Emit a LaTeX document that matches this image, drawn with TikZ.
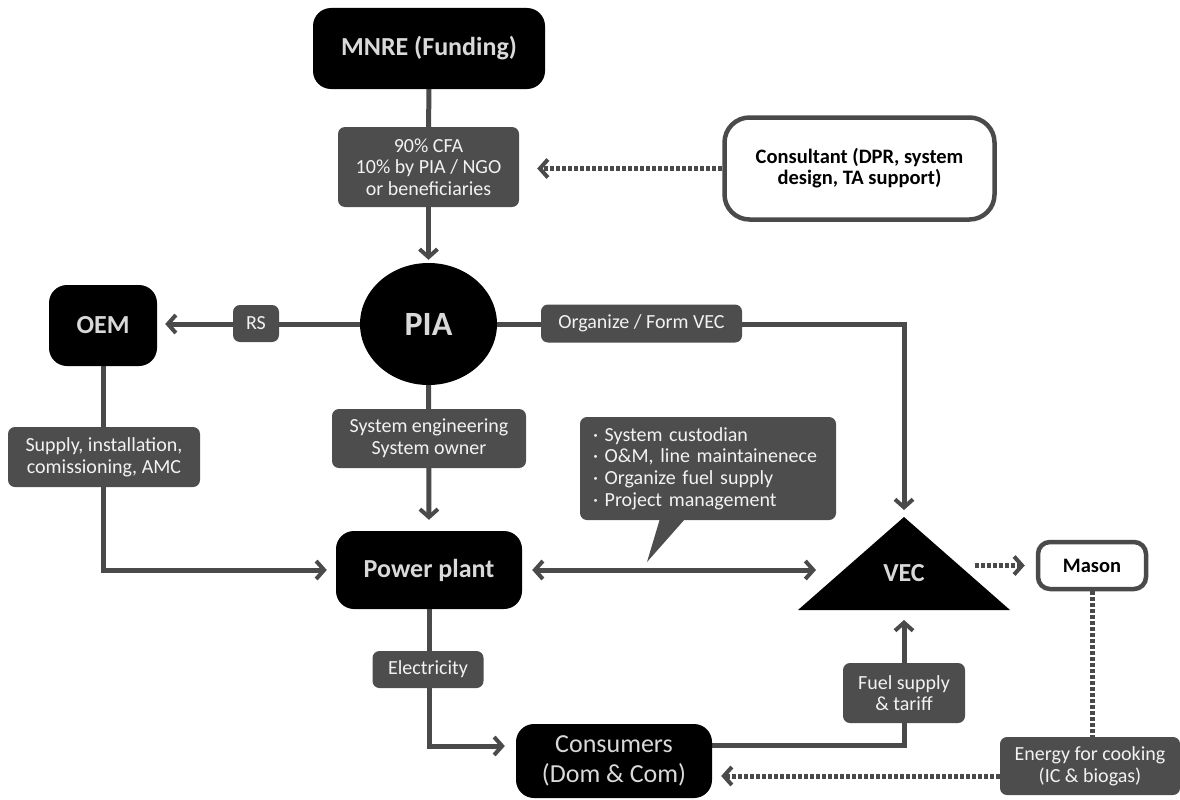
\documentclass[tikz,border=0pt]{standalone}
\usepackage{fontspec}
\setmainfont{Carlito}
\usetikzlibrary{arrows.meta, shapes.geometric, calc, backgrounds}
\definecolor{lineGray}{HTML}{4A4A4A}
\definecolor{labelGray}{HTML}{4D4D4D}
\definecolor{textLight}{HTML}{D9D9D9}
\definecolor{textWhite}{HTML}{F2F2F2}
\tikzset{barb/.tip={Straight Barb[length=8pt, width=18pt, line width=4pt]}}

\begin{document}
\begin{tikzpicture}[x=1pt, y=-1pt,
    blackBox/.style={fill=black, rounded corners=18pt, text=textLight, inner sep=0pt, align=center, font=\bfseries\fontsize{26}{28}\selectfont},
    grayLabel/.style={fill=labelGray, rounded corners=7pt, text=textWhite, inner sep=0pt, align=center, font=\fontsize{20}{21.7}\selectfont},
    whiteBox/.style={fill=white, draw=lineGray, line width=4.5pt, inner sep=0pt, align=center, text=black, font=\bfseries\fontsize{20.5}{21}\selectfont},
    flow/.style={draw=lineGray, line width=5pt, -barb},
    dotFlow/.style={flow, dash pattern=on 4pt off 2pt}]
    \useasboundingbox (0,0) rectangle (1180,800);

    \node[blackBox, minimum width=232pt, minimum height=81pt] (mnre) at (429,48.5) {MNRE (Funding)};
    \node[grayLabel, minimum width=181pt, minimum height=80pt] (cfa) at (428.5,167) {90\% CFA\\10\% by PIA / NGO\\or beneficiaries};
    \node[whiteBox, rounded corners=25pt, minimum width=270pt, minimum height=102pt] (consultant) at (859.5,168.5) {Consultant (DPR, system\\design, TA support)};

    \node[ellipse, fill=black, text=textLight, inner sep=0pt, minimum width=137pt, minimum height=122pt, font=\bfseries\fontsize{34}{36}\selectfont] (pia) at (428.5,324) {PIA};
    \node[blackBox, minimum width=108pt, minimum height=81pt] (oem) at (103,325.5) {OEM};
    \node[grayLabel, minimum width=46pt, minimum height=37pt] (rs) at (256,323.5) {RS};
    \node[grayLabel, minimum width=201pt, minimum height=38pt] (organize) at (641.5,323.5) {Organize / Form VEC};

    \node[grayLabel, minimum width=192pt, minimum height=60pt] (supply) at (104,457) {Supply, installation,\\comissioning, AMC};
    \node[grayLabel, minimum width=194pt, minimum height=59pt] (syseng) at (429,438.5) {System engineering\\System owner};
    \node[grayLabel, align=left, text width=230pt, minimum width=256pt, minimum height=103pt] (duties) at (708,468.5) {· System custodian\\· O\&M, line maintainenece\\· Organize fuel supply\\· Project management};
    \coordinate (calloutTip) at (647,562);
    \fill[labelGray] ($(duties.south west)+(80,-1)$) -- (calloutTip) -- ($(duties.south west)+(105,-1)$) -- cycle;

    \node[blackBox, minimum width=186pt, minimum height=78pt] (plant) at (429,570) {Power plant};
    \coordinate (vecTop) at (904,517);
    \coordinate (vecBaseL) at (798,610);
    \coordinate (vecBaseR) at (1010,610);
    \coordinate (vecBot) at (904,610);
    \coordinate (vecLeft) at (816,570);
    \coordinate (vecRight) at (975,565.5);
    \fill (vecBaseL) -- (vecTop) -- (vecBaseR) -- cycle;
    \node[text=textLight, font=\bfseries\fontsize{26}{28}\selectfont] (vec) at (904,573) {VEC};
    \node[whiteBox, rounded corners=12pt, minimum width=108pt, minimum height=47pt] (mason) at (1092,565.5) {Mason};

    \node[grayLabel, minimum width=111pt, minimum height=37pt] (electricity) at (428,669.5) {Electricity};
    \node[grayLabel, minimum width=122pt, minimum height=60pt] (fuel) at (904,693) {Fuel supply\\\& tariff};
    \node[blackBox, font=\fontsize{26}{30}\selectfont, minimum width=196pt, minimum height=74pt] (consumers) at (614,761) {Consumers\\(Dom \& Com)};
    \node[grayLabel, minimum width=180pt, minimum height=58pt] (energy) at (1090,766) {Energy for cooking\\(IC \& biogas)};

    \begin{scope}[on background layer]
        \draw[flow, -] (mnre) -- (cfa);
        \draw[flow, shorten >=3pt] (cfa) -- (pia);
        \draw[dotFlow, shorten >=18pt] (consultant.west) -- (cfa.east |- consultant.west);
        \draw[flow, shorten >=8pt] (pia.west) -- (oem.east |- pia.west);
        \draw[flow, shorten >=7pt] (pia.east) -- (vecTop |- pia.east) -- (vecTop);
        \draw[flow, shorten >=9pt] (oem.south) |- (plant.west);
        \draw[flow, shorten >=11pt] (pia.south) -- (plant.north);
        \draw[flow, barb-barb, shorten <=10pt] (plant.east) -- (vecLeft);
        \draw[flow, shorten >=11pt] (plant.south) |- ($(consumers.west)+(0,-15)$);
        \draw[flow, shorten >=10pt] ($(consumers.east)+(0,-16)$) -| (vecBot);
        \draw[dotFlow, shorten >=11pt] (vecRight) -- (mason.west);
        \draw[dotFlow, -] (mason.south) -- (mason.south |- energy.north);
        \draw[dotFlow, shorten >=9pt] ($(energy.west)+(0,10)$) -- ($(consumers.east |- energy.west)+(0,10)$);
    \end{scope}
\end{tikzpicture}
\end{document}
